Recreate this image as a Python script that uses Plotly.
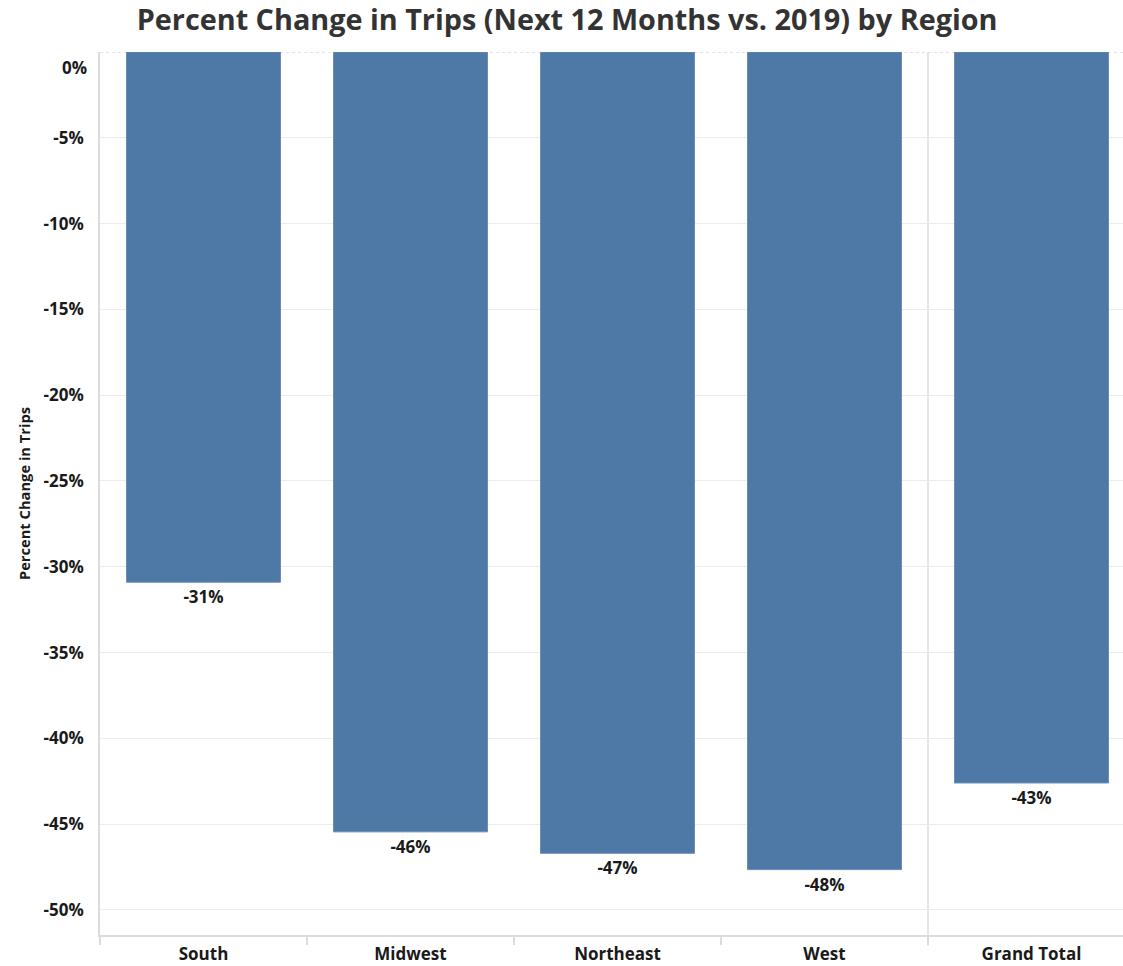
import plotly.graph_objects as go

regions = ["South", "Midwest", "Northeast", "West", "Grand Total"]
pct_change = [-30.9, -45.45, -46.7, -47.65, -42.6]
value_labels = ["-31%", "-46%", "-47%", "-48%", "-43%"]
y_ticks = [-5, -10, -15, -20, -25, -30, -35, -40, -45, -50]
y_ticktext = [f"{v}%" for v in y_ticks]

FONT = "Open Sans"
BAR = "#4e79a7"
GRID = "#ececec"
LINE = "#dcdcdc"
TXT = "#1a1a1a"

fig = go.Figure()
fig.add_trace(go.Bar(
    x=regions, y=pct_change,
    marker=dict(color=BAR, line=dict(color="#6a8db5", width=1)),
    width=0.744,
    text=value_labels, textposition="outside",
    textfont=dict(family=FONT, size=17, color=TXT, weight="bold"),
    cliponaxis=False,
    hoverinfo="skip",
))

# dotted zero line at top and grand total separator
fig.add_shape(type="line", xref="paper", yref="y", x0=0, x1=1, y0=0, y1=0,
              line=dict(color="#c8c8c8", width=1.2, dash="dot"), layer="below")
fig.add_shape(type="line", xref="x", yref="paper", x0=3.5, x1=3.5, y0=-0.012, y1=1,
              line=dict(color=LINE, width=1.5), layer="below")

fig.add_annotation(text="<b>0%</b>", xref="paper", yref="paper", x=0, y=1,
                   xanchor="right", yanchor="top", xshift=-11, yshift=-2,
                   showarrow=False, font=dict(family=FONT, size=17, color=TXT))

fig.update_layout(
    width=1123, height=966,
    margin=dict(l=100, r=0, t=52, b=31),
    paper_bgcolor="white", plot_bgcolor="white",
    title=dict(text="<b>Percent Change in Trips (Next 12 Months vs. 2019) by Region</b>",
               x=0.505, xanchor="center", y=0.979, yanchor="middle",
               font=dict(family=FONT, size=28.8, color="#333333")),
    showlegend=False,
    bargap=0.256,
)
fig.update_xaxes(
    type="category", range=[-0.5, 4.442],
    showgrid=False, showline=True, linecolor=LINE, linewidth=1.5,
    tickson="boundaries", ticks="outside", ticklen=8, tickcolor=LINE, tickwidth=1.5,
    ticklabelstandoff=3,
    tickfont=dict(family=FONT, size=17, color=TXT, weight="bold"),
    fixedrange=True,
)
fig.update_yaxes(
    range=[-51.46, 0],
    tickvals=y_ticks, ticktext=y_ticktext,
    showgrid=True, gridcolor=GRID, gridwidth=1.2,
    zeroline=False,
    showline=True, linecolor=LINE, linewidth=1.5,
    ticks="", ticklabelstandoff=11,
    tickfont=dict(family=FONT, size=17, color=TXT, weight="bold"),
    title=dict(text="<b>Percent Change in Trips</b>", standoff=9,
               font=dict(family=FONT, size=14.7, color=TXT)),
    fixedrange=True,
)

fig.write_html("out.html", config={"displayModeBar": False},
               post_script="document.body.style.margin='0';document.body.style.overflow='hidden';")
